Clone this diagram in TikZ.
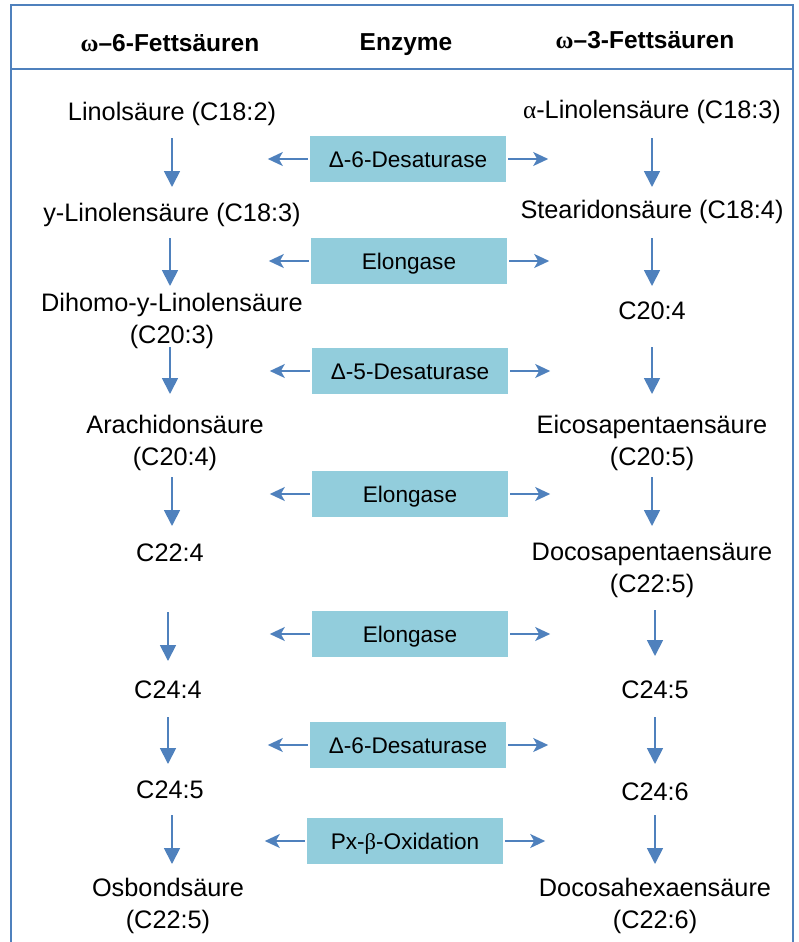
\documentclass[tikz,border=0pt]{standalone}
\usepackage{fontspec}
\setmainfont{Liberation Sans}
\newfontfamily\grk{Liberation Serif}
\usetikzlibrary{arrows.meta}
\definecolor{lineblue}{HTML}{4F81BD}
\definecolor{boxblue}{HTML}{92CDDC}
\tikzset{
  acid/.style={inner sep=0pt, align=center, font=\fontsize{25.3}{32}\selectfont},
  head/.style={inner sep=0pt, font=\fontsize{24.5}{30}\selectfont\bfseries},
  enz/.style={fill=boxblue, minimum width=196pt, minimum height=46pt, inner sep=0pt, text height=19pt, text depth=3pt, font=\fontsize{22.6}{26}\selectfont},
  varrow/.style={draw=lineblue, line width=1.8pt, -{Triangle[length=16pt,width=16pt]}},
  harrow/.style={draw=lineblue, line width=1.8pt, -{Stealth[length=15pt,width=14pt,inset=4pt]}},
  frame/.style={draw=lineblue, line width=2pt}
}
\begin{document}
\begin{tikzpicture}[x=1pt,y=-1pt]
\useasboundingbox (0,0) rectangle (798,942);
% frame
\draw[frame] (11,943) -- (11,5) -- (793,5) -- (793,943);
\draw[frame] (11,69) -- (793,69);
% header
\node[head] (h1) at (170,43) {{\grk\bfseries ω}–6-Fettsäuren};
\node[head] (h2) at (406,45) {Enzyme};
\node[head] (h3) at (645,40) {{\grk\bfseries ω}–3-Fettsäuren};
% left column
\node[acid] (L1) at (172,114) {Linolsäure (C18:2)};
\node[acid] (L2) at (172,215) {y-Linolensäure (C18:3)};
\node[acid] (L3) at (172,321) {Dihomo-y-Linolensäure\\(C20:3)};
\node[acid] (L4) at (175,443) {Arachidonsäure\\(C20:4)};
\node[acid] (L5) at (170,553) {C22:4};
\node[acid] (L6) at (168,690) {C24:4};
\node[acid] (L7) at (170,790) {C24:5};
\node[acid] (L8) at (168,906) {Osbondsäure\\(C22:5)};
% right column
\node[acid] (R1) at (652,112) {{\grk α}-Linolensäure (C18:3)};
\node[acid] (R2) at (652,212) {Stearidonsäure (C18:4)};
\node[acid] (R3) at (652,311) {C20:4};
\node[acid] (R4) at (652,443) {Eicosapentaensäure\\(C20:5)};
\node[acid] (R5) at (652,570) {Docosapentaensäure\\(C22:5)};
\node[acid] (R6) at (655,690) {C24:5};
\node[acid] (R7) at (655,792) {C24:6};
\node[acid] (R8) at (655,906) {Docosahexaensäure\\(C22:6)};
% enzymes
\node[enz] (E1) at (408,159) {Δ-6-Desaturase};
\node[enz] (E2) at (409,261) {Elongase};
\node[enz] (E3) at (410,371) {Δ-5-Desaturase};
\node[enz] (E4) at (410,494) {Elongase};
\node[enz] (E5) at (410,634) {Elongase};
\node[enz] (E6) at (408,745) {Δ-6-Desaturase};
\node[enz] (E7) at (405,841) {Px-{\grk β}-Oxidation};
% enzyme arrows
\foreach \e in {E1,E2,E3,E4,E5,E6,E7}{
  \draw[harrow] ([xshift=-2pt]\e.west) -- ++(-40,0);
  \draw[harrow] ([xshift=2pt]\e.east) -- ++(40,0);
}
% vertical arrows left
\draw[varrow] (172,138) -- (172,187);
\draw[varrow] (170,238) -- (170,286);
\draw[varrow] (170,347) -- (170,394);
\draw[varrow] (172,477) -- (172,526);
\draw[varrow] (168,612) -- (168,661);
\draw[varrow] (168,717) -- (168,764);
\draw[varrow] (172,815) -- (172,864);
% vertical arrows right
\draw[varrow] (652,138) -- (652,187);
\draw[varrow] (652,238) -- (652,286);
\draw[varrow] (652,347) -- (652,394);
\draw[varrow] (652,477) -- (652,526);
\draw[varrow] (655,610) -- (655,656);
\draw[varrow] (655,717) -- (655,764);
\draw[varrow] (655,815) -- (655,864);
\end{tikzpicture}
\end{document}
